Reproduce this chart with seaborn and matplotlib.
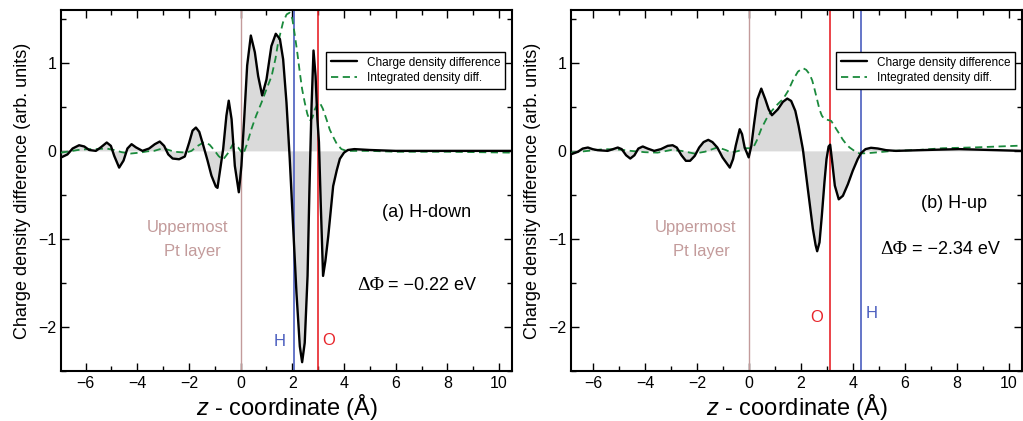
import matplotlib
matplotlib.use("Agg")
import matplotlib.pyplot as plt
from matplotlib.ticker import MultipleLocator
import seaborn as sns
import pandas as pd

# (a) H-down : charge density difference
za = [-6.955, -6.70, -6.50, -6.25, -6.05, -5.86, -5.60, -5.41, -5.18, -5.02, -4.89, -4.70,
      -4.53, -4.38, -4.22, -4.05, -3.80, -3.54, -3.32, -3.13, -2.96, -2.80, -2.63, -2.38,
      -2.16, -1.99, -1.86, -1.73, -1.60, -1.44, -1.28, -1.13, -0.96, -0.895, -0.676, -0.55,
      -0.46, -0.35, -0.224, -0.07, 0.03, 0.137, 0.253, 0.395, 0.55, 0.678, 0.833, 1.00,
      1.19, 1.36, 1.52, 1.645, 1.774, 1.90, 2.03, 2.16, 2.29, 2.38, 2.48, 2.59, 2.66, 2.74,
      2.82, 2.90, 2.97, 3.03, 3.10, 3.19, 3.28, 3.39, 3.58, 3.72, 3.84, 4.00, 4.15, 4.40,
      5.00, 6.00, 7.00, 8.00, 9.00, 10.50]
qa = [-0.076, -0.04, 0.027, 0.064, 0.05, 0.01, 0.00, 0.04, 0.095, 0.057, -0.057, -0.19,
      -0.11, 0.027, 0.076, 0.04, 0.00, 0.027, 0.076, 0.106, 0.057, -0.04, -0.087, -0.095,
      -0.064, 0.095, 0.23, 0.265, 0.216, 0.057, -0.11, -0.28, -0.405, -0.42, 0.02, 0.40,
      0.57, 0.36, -0.17, -0.47, -0.17, 0.36, 0.97, 1.31, 1.12, 0.85, 0.63, 0.81,
      1.19, 1.33, 1.27, 1.04, 0.55, -0.09, -0.85, -1.61, -2.22, -2.40, -2.18, -1.42, -0.47, 0.47,
      1.14, 0.85, 0.36, 0.10, -0.60, -1.42, -1.25, -0.97, -0.40, -0.22, -0.09, -0.02, 0.01, 0.02,
      0.01, 0.00, 0.00, 0.00, 0.00, 0.00]
# (a) integrated density difference
zia = [-6.96, -6.60, -6.30, -5.90, -5.60, -5.20, -4.90, -4.60, -4.25, -3.90, -3.60, -3.35,
       -3.00, -2.56, -2.12, -1.90, -1.70, -1.41, -1.20, -1.00, -0.85, -0.68, -0.50, -0.29,
       -0.10, 0.10, 0.25, 0.42, 0.60, 0.81, 1.00, 1.20, 1.35, 1.45, 1.64, 1.78, 1.90, 2.00,
       2.10, 2.20, 2.29, 2.38, 2.48, 2.58, 2.68, 2.78, 2.87, 2.97, 3.06, 3.18, 3.32, 3.45,
       3.58, 3.72, 3.90, 4.10, 5.00, 6.00, 8.00, 10.50]
ia = [-0.02, -0.005, 0.01, 0.02, 0.02, 0.027, 0.01, -0.015, -0.03, -0.02, -0.005, 0.00,
      0.03, -0.01, -0.02, 0.00, 0.05, 0.10, 0.07, 0.00, -0.06, -0.10, -0.03, 0.08,
      0.04, -0.04, 0.08, 0.25, 0.40, 0.55, 0.70, 0.85, 1.05, 1.23, 1.46, 1.55, 1.57, 1.50,
      1.31, 1.10, 0.89, 0.70, 0.55, 0.42, 0.34, 0.38, 0.47, 0.53, 0.55, 0.48, 0.36, 0.24,
      0.16, 0.08, 0.02, 0.00, 0.00, -0.01, -0.01, -0.02]

# (b) H-up : charge density difference
zb = [-6.84, -6.59, -6.40, -6.20, -6.01, -5.82, -5.44, -5.24, -5.05, -4.90, -4.73, -4.57,
      -4.41, -4.26, -4.09, -3.90, -3.65, -3.39, -3.13, -2.94, -2.78, -2.60, -2.43, -2.27,
      -2.09, -1.92, -1.75, -1.57, -1.41, -1.22, -1.02, -0.935, -0.74, -0.615, -0.513, -0.36,
      -0.27, -0.17, -0.014, 0.088, 0.19, 0.32, 0.47, 0.626, 0.753, 0.88, 1.11, 1.30, 1.47,
      1.62, 1.78, 1.905, 2.07, 2.26, 2.455, 2.56, 2.62, 2.71, 2.80, 2.90, 2.98, 3.06, 3.12,
      3.20, 3.30, 3.45, 3.61, 3.80, 3.99, 4.18, 4.31, 4.48, 4.69, 4.95, 5.27, 5.65, 6.80,
      8.08, 10.50]
qb = [-0.038, -0.011, 0.026, 0.038, 0.019, 0.008, 0.00, 0.019, 0.038, 0.02, -0.05, -0.087,
      -0.05, 0.026, 0.05, 0.026, 0.00, 0.02, 0.057, 0.064, 0.038, -0.05, -0.113, -0.113,
      -0.057, 0.038, 0.10, 0.125, 0.10, 0.038, -0.075, -0.11, -0.19, -0.093, 0.058, 0.246,
      0.19, 0.04, -0.074, 0.058, 0.30, 0.585, 0.707, 0.585, 0.473, 0.405, 0.473, 0.556, 0.594,
      0.567, 0.454, 0.284, 0.02, -0.43, -0.886, -1.07, -1.14, -1.04, -0.735, -0.357, -0.093, 0.05, 0.07,
      -0.13, -0.395, -0.55, -0.51, -0.38, -0.225, -0.093, -0.025, 0.02, 0.035, 0.027, 0.008, 0.00, 0.01,
      0.02, 0.00]
# (b) integrated density difference
zib = [-6.84, -6.20, -5.57, -5.00, -4.55, -4.00, -3.52, -3.00, -2.60, -2.11, -1.70, -1.21,
       -0.90, -0.67, -0.40, -0.16, 0.15, 0.30, 0.47, 0.66, 0.86, 1.10, 1.31, 1.50, 1.70,
       1.88, 2.07, 2.20, 2.33, 2.43, 2.52, 2.62, 2.71, 2.80, 2.90, 3.05, 3.16, 3.25, 3.35,
       3.48, 3.60, 3.73, 3.86, 4.05, 4.25, 4.60, 5.00, 5.52, 6.50, 7.44, 8.72, 10.50]
ib = [-0.02, 0.00, 0.02, 0.015, 0.00, -0.015, -0.02, 0.01, 0.00, -0.03, -0.01, 0.04,
      0.01, -0.02, 0.00, 0.03, 0.03, 0.12, 0.25, 0.36, 0.45, 0.53, 0.59, 0.68, 0.81,
      0.90, 0.94, 0.92, 0.87, 0.80, 0.70, 0.58, 0.47, 0.40, 0.36, 0.35, 0.34, 0.30, 0.25,
      0.19, 0.13, 0.08, 0.04, 0.00, -0.03, -0.025, -0.015, 0.00, 0.01, 0.03, 0.04, 0.06]

# atom positions (Pt, H, O)
pos_a = {"Pt": 0.0, "H": 2.08, "O": 2.98}
pos_b = {"Pt": 0.0, "O": 3.12, "H": 4.32}
dphi = ["\u22120.22 eV", "\u22122.34 eV"]
titles = ["(a) H-down", "(b) H-up"]

sns.set_theme(style="ticks")
plt.rcParams["font.family"] = ["Liberation Sans", "DejaVu Sans"]
plt.rcParams["mathtext.fontset"] = "custom"
plt.rcParams["mathtext.it"] = "Liberation Sans:italic"
plt.rcParams["mathtext.rm"] = "Liberation Sans"
plt.rcParams["text.color"] = "black"
plt.rcParams["axes.labelcolor"] = "black"
plt.rcParams["xtick.color"] = "black"
plt.rcParams["ytick.color"] = "black"

col_pt = "#c39b9b"
col_h = "#4a5dbf"
col_o = "#e8242a"
col_green = "#1a8a3c"

fig = plt.figure(figsize=(10.23, 4.21), dpi=100)
ax1 = fig.add_axes([61 / 1023, 50 / 421, 451 / 1023, 361 / 421])
ax2 = fig.add_axes([571 / 1023, 50 / 421, 451 / 1023, 361 / 421])

panels = [
    (ax1, za, qa, zia, ia, pos_a, (-6.95, 10.5)),
    (ax2, zb, qb, zib, ib, pos_b, (-6.85, 10.5)),
]

for ax, z, q, zi, iv, pos, xl in panels:
    ax.fill_between(z, q, 0, color="#dadada", lw=0, zorder=1)
    ax.axvline(pos["Pt"], color=col_pt, lw=1.0, zorder=2)
    ax.axvline(pos["H"], color=col_h, lw=1.2, zorder=2)
    ax.axvline(pos["O"], color=col_o, lw=1.2, zorder=2)
    df = pd.DataFrame({"z": z, "q": q})
    di = pd.DataFrame({"z": zi, "v": iv})
    sns.lineplot(data=df, x="z", y="q", ax=ax, color="black", lw=1.7,
                 estimator=None, label="Charge density difference", zorder=4)
    sns.lineplot(data=di, x="z", y="v", ax=ax, color=col_green, lw=1.3,
                 estimator=None, label="Integrated density diff.", zorder=3)
    ax.lines[-1].set_dashes([4, 2.5])
    for ln in ax.lines:
        ln.set_solid_joinstyle("round")
        ln.set_dash_joinstyle("round")

    ax.set_xlim(*xl)
    ax.set_ylim(-2.5, 1.6)
    ax.xaxis.set_major_locator(MultipleLocator(2))
    ax.xaxis.set_minor_locator(MultipleLocator(1))
    ax.yaxis.set_major_locator(MultipleLocator(1))
    ax.yaxis.set_minor_locator(MultipleLocator(0.5))
    ax.tick_params(which="both", direction="in", top=True, right=True,
                   labelsize=11.5, width=1.0, color="black", labelcolor="black")
    ax.tick_params(which="major", length=6)
    ax.tick_params(which="minor", length=3.5)
    for s in ax.spines.values():
        s.set_linewidth(1.5)
        s.set_color("black")
    ax.set_xlabel("$z$ - coordinate (\u00c5)", fontsize=17, labelpad=1, color="black")
    ax.set_ylabel("Charge density difference (arb. units)", fontsize=13, labelpad=5, color="black")

    leg = ax.legend(loc="upper right", bbox_to_anchor=(0.984, 0.884), fontsize=8.5,
                    frameon=True, fancybox=False, edgecolor="black", framealpha=1,
                    borderaxespad=0, handlelength=2.2, borderpad=0.4, labelspacing=0.3)
    leg.get_frame().set_linewidth(1.0)
    for t in leg.get_texts():
        t.set_color("black")

    ax.text(-2.05, -0.87, "Uppermost", color=col_pt, fontsize=12, ha="center", va="center")
    ax.text(-1.85, -1.14, "Pt layer", color=col_pt, fontsize=12, ha="center", va="center")

ax1.text(7.2, -0.70, titles[0], fontsize=13, ha="center", va="center", color="black")
ax1.text(4.5, -1.53, "\u0394\u03a6", fontsize=14, family="Liberation Serif", ha="left", va="center",
         color="black")
ax1.text(5.72, -1.53, "= " + dphi[0], fontsize=13, ha="left", va="center", color="black")
ax1.text(1.5, -2.16, "H", color=col_h, fontsize=12, ha="center", va="center")
ax1.text(3.4, -2.15, "O", color=col_o, fontsize=12, ha="center", va="center")

ax2.text(7.9, -0.60, titles[1], fontsize=13, ha="center", va="center", color="black")
ax2.text(5.03, -1.12, "\u0394\u03a6", fontsize=14, family="Liberation Serif", ha="left", va="center",
         color="black")
ax2.text(6.25, -1.12, "= " + dphi[1], fontsize=13, ha="left", va="center", color="black")
ax2.text(2.62, -1.89, "O", color=col_o, fontsize=12, ha="center", va="center")
ax2.text(4.73, -1.85, "H", color=col_h, fontsize=12, ha="center", va="center")

fig.savefig("out.png", dpi=100)
